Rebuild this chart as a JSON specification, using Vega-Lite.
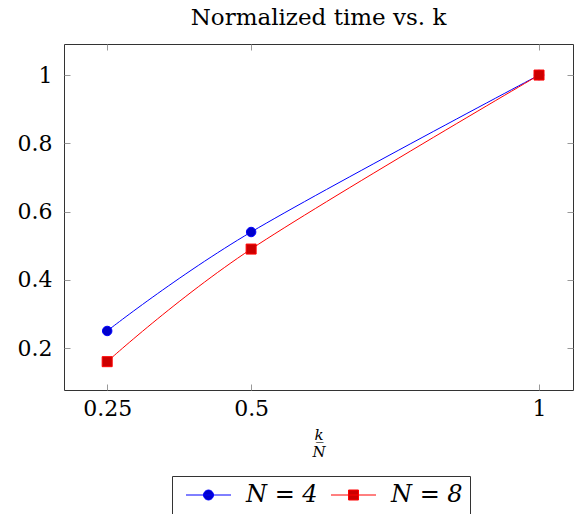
{
  "$schema": "https://vega.github.io/schema/vega-lite/v6.json",
  "width": 509,
  "height": 346,
  "autosize": {"type": "none"},
  "padding": {"left": 64, "top": 44, "right": 1, "bottom": 124},
  "title": {"text": "Normalized time vs. k", "font": "DejaVu Serif", "fontSize": 23, "fontWeight": "normal", "color": "black", "offset": 14},
  "data": {"values": [
    {"series": "N = 4", "x": 0.25, "y": 0.25},
    {"series": "N = 4", "x": 0.5, "y": 0.54},
    {"series": "N = 4", "x": 1, "y": 1},
    {"series": "N = 8", "x": 0.25, "y": 0.16},
    {"series": "N = 8", "x": 0.5, "y": 0.49},
    {"series": "N = 8", "x": 1, "y": 1}
  ]},
  "config": {
    "view": {"stroke": "#333333", "strokeWidth": 1},
    "axis": {"grid": false, "domain": false, "tickColor": "#999999", "tickSize": -6, "labelFont": "DejaVu Serif", "labelFontSize": 22, "labelColor": "black", "titleFont": "DejaVu Serif", "titleColor": "black", "titleFontWeight": "normal"},
    "legend": {"strokeColor": "#333333", "padding": 7, "labelFont": "DejaVu Serif", "labelFontSize": 24, "labelFontStyle": "italic", "labelColor": "black"}
  },
  "encoding": {
    "x": {"field": "x", "type": "quantitative", "scale": {"domain": [0.175, 1.059], "nice": false, "zero": false}},
    "y": {"field": "y", "type": "quantitative", "scale": {"domain": [0.077, 1.091], "nice": false, "zero": false}}
  },
  "layer": [
    {
      "mark": {"type": "line", "interpolate": "cardinal", "tension": 0, "strokeWidth": 1},
      "encoding": {
        "x": {"field": "x", "type": "quantitative", "axis": {"values": [0.25, 0.5, 1], "format": ".2~f", "labelPadding": 14, "title": ["k", "N̅"], "titleFontStyle": "italic", "titleFontSize": 15, "titlePadding": 8}},
        "y": {"field": "y", "type": "quantitative", "axis": {"values": [0.2, 0.4, 0.6, 0.8, 1], "format": ".1~f", "labelPadding": 18, "title": null}},
        "stroke": {
          "field": "series", "type": "nominal",
          "scale": {"domain": ["N = 4", "N = 8"], "range": ["#0000ff", "#ff0000"]},
          "legend": {
            "orient": "none", "legendX": 108, "legendY": 432, "direction": "horizontal", "title": null,
            "symbolSize": 100, "symbolStrokeWidth": 1, "labelOffset": 43, "columnPadding": 6,
            "encode": {"symbols": {"update": {
              "shape": {"signal": "datum.value === 'N = 4' ? 'M-1,0H8M4.5,0A1,1 0 1,1 2.5,0A1,1 0 1,1 4.5,0Z' : 'M-1,0H8M2.5,-1H4.5V1H2.5Z'"},
              "fill": {"signal": "datum.value === 'N = 4' ? '#0000cc' : '#cc0000'"},
              "stroke": {"signal": "datum.value === 'N = 4' ? '#0000ff' : '#ff0000'"},
              "fillOpacity": {"value": 1},
              "opacity": {"value": 1}
            }}}
          }
        }
      }
    },
    {
      "transform": [{"filter": "datum.series === 'N = 4'"}],
      "mark": {"type": "point", "shape": "circle", "filled": true, "fill": "#0000cc", "stroke": "#0000ff", "strokeWidth": 1, "opacity": 1, "size": 90},
      "encoding": {
        "x": {"field": "x", "type": "quantitative", "axis": {"orient": "top", "values": [0.25, 0.5, 1], "labels": false, "title": null}},
        "y": {"field": "y", "type": "quantitative", "axis": {"orient": "right", "values": [0.2, 0.4, 0.6, 0.8, 1], "labels": false, "title": null}}
      }
    },
    {
      "transform": [{"filter": "datum.series === 'N = 8'"}],
      "mark": {"type": "point", "shape": "square", "filled": true, "fill": "#cc0000", "stroke": "#ff0000", "strokeWidth": 1, "opacity": 1, "size": 100},
      "encoding": {
        "x": {"field": "x", "type": "quantitative", "axis": null},
        "y": {"field": "y", "type": "quantitative", "axis": null}
      }
    }
  ],
  "resolve": {"axis": {"x": "independent", "y": "independent"}}
}
